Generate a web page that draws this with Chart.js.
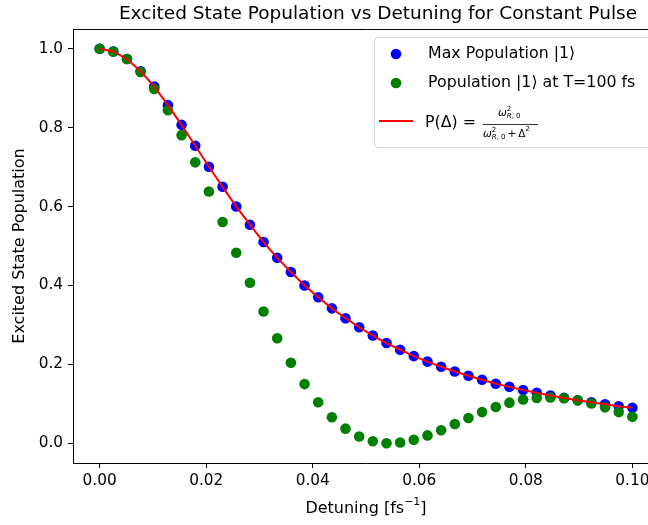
<!DOCTYPE html>
<html>
<head>
<meta charset="utf-8">
<script src="https://cdn.jsdelivr.net/npm/chart.js@4.4.1/dist/chart.umd.min.js"></script>
<style>
    html, body { margin: 0; padding: 0; background: #fff; overflow: hidden; }
    #wrap { width: 680px; height: 525px; }
</style>
</head>
<body>
<div id="wrap"><canvas id="popChart" width="680" height="525"></canvas></div>
<script>
// Data
const detuning = [0, 0.00256, 0.00513, 0.00769, 0.01026, 0.01282, 0.01538, 0.01795, 0.02051, 0.02308,
    0.02564, 0.02821, 0.03077, 0.03333, 0.0359, 0.03846, 0.04103, 0.04359, 0.04615, 0.04872,
    0.05128, 0.05385, 0.05641, 0.05897, 0.06154, 0.0641, 0.06667, 0.06923, 0.07179, 0.07436,
    0.07692, 0.07949, 0.08205, 0.08462, 0.08718, 0.08974, 0.09231, 0.09487, 0.09744, 0.1];
const maxPop = [1.000, 0.993, 0.974, 0.943, 0.904, 0.857, 0.807, 0.754, 0.701, 0.650,
    0.600, 0.554, 0.510, 0.470, 0.434, 0.400, 0.370, 0.342, 0.317, 0.294,
    0.273, 0.254, 0.237, 0.221, 0.207, 0.194, 0.182, 0.171, 0.161, 0.151,
    0.143, 0.135, 0.128, 0.121, 0.115, 0.109, 0.104, 0.099, 0.094, 0.090];
const popT100 = [1.000, 0.993, 0.974, 0.941, 0.898, 0.844, 0.781, 0.712, 0.638, 0.561,
    0.483, 0.407, 0.334, 0.266, 0.204, 0.150, 0.104, 0.066, 0.037, 0.017,
    0.005, 0.000, 0.002, 0.009, 0.020, 0.033, 0.049, 0.064, 0.079, 0.092,
    0.103, 0.111, 0.115, 0.116, 0.114, 0.109, 0.101, 0.091, 0.079, 0.067];
const xTicks = [0, 0.02, 0.04, 0.06, 0.08, 0.10];
const yTicks = [0, 0.2, 0.4, 0.6, 0.8, 1.0];

const FONT = '"DejaVu Sans", sans-serif';

function pts(ys) {
    return detuning.map((x, i) => ({ x: x, y: ys[i] }));
}

// Title, axis labels, top spine and the legend (with its fraction)
const decorPlugin = {
    id: 'decor',
    afterDraw(chart) {
        const ctx = chart.ctx;
        const a = chart.chartArea;
        const cx = (a.left + a.right) / 2;
        ctx.save();

        // top + right spines
        ctx.strokeStyle = '#000';
        ctx.lineWidth = 1;
        ctx.beginPath();
        ctx.moveTo(a.left, a.top + 0.5);
        ctx.lineTo(a.right + 0.5, a.top + 0.5);
        ctx.lineTo(a.right + 0.5, a.bottom);
        ctx.stroke();

        ctx.fillStyle = '#000';
        ctx.textBaseline = 'middle';

        // title
        ctx.font = '18.5px ' + FONT;
        ctx.textAlign = 'center';
        ctx.fillText('Excited State Population vs Detuning for Constant Pulse', cx + 12, 14);

        // x label with superscript
        ctx.font = '16px ' + FONT;
        const p1 = 'Detuning [fs', p2 = '\u22121', p3 = ']';
        const w1 = ctx.measureText(p1).width;
        const w3 = ctx.measureText(p3).width;
        ctx.font = '11px ' + FONT;
        const w2 = ctx.measureText(p2).width;
        let x0 = cx - (w1 + w2 + w3) / 2;
        ctx.textAlign = 'left';
        ctx.font = '16px ' + FONT;
        ctx.fillText(p1, x0, 509);
        ctx.font = '11px ' + FONT;
        ctx.fillText(p2, x0 + w1, 502);
        ctx.font = '16px ' + FONT;
        ctx.fillText(p3, x0 + w1 + w2, 509);

        // y label
        ctx.save();
        ctx.translate(20, (a.top + a.bottom) / 2);
        ctx.rotate(-Math.PI / 2);
        ctx.textAlign = 'center';
        ctx.font = '16px ' + FONT;
        ctx.fillText('Excited State Population', 0, 0);
        ctx.restore();

        // legend box
        const bx = 374, by = 37, bw = 278, bh = 110, r = 4;
        ctx.fillStyle = 'rgba(255,255,255,0.8)';
        ctx.strokeStyle = '#d6d6d6';
        ctx.beginPath();
        ctx.roundRect(bx + 0.5, by + 0.5, bw, bh, r);
        ctx.fill();
        ctx.stroke();

        ctx.fillStyle = '#0000ff';
        ctx.beginPath(); ctx.arc(396, 54, 5.3, 0, Math.PI * 2); ctx.fill();
        ctx.fillStyle = '#008000';
        ctx.beginPath(); ctx.arc(396, 83, 5.3, 0, Math.PI * 2); ctx.fill();
        ctx.strokeStyle = '#ff0000';
        ctx.lineWidth = 2;
        ctx.beginPath(); ctx.moveTo(379, 121); ctx.lineTo(413, 121); ctx.stroke();

        ctx.fillStyle = '#000';
        ctx.textAlign = 'left';
        ctx.font = '15.8px ' + FONT;
        ctx.fillText('Max Population |1\u27e9', 428, 54);
        ctx.fillText('Population |1\u27e9 at T=100 fs', 428, 83);
        ctx.fillText('P(\u0394) =', 425, 123);

        // fraction  w^2_{R,0} / (w^2_{R,0} + D^2)
        function omega(x, y) {
            ctx.font = 'italic 10.5px ' + FONT;
            ctx.fillText('\u03c9', x, y);
            const w = ctx.measureText('\u03c9').width;
            ctx.font = '7px ' + FONT;
            ctx.fillText('2', x + w, y - 4);
            ctx.font = 'italic 7px ' + FONT;
            ctx.fillText('R', x + w, y + 3);
            const wr = ctx.measureText('R').width;
            ctx.font = '7px ' + FONT;
            ctx.fillText(', 0', x + w + wr, y + 3);
            return w + wr + ctx.measureText(', 0').width;
        }
        omega(498, 113);
        ctx.strokeStyle = '#000';
        ctx.lineWidth = 0.8;
        ctx.beginPath(); ctx.moveTo(483, 124.5); ctx.lineTo(538, 124.5); ctx.stroke();
        let dx = 483 + omega(483, 134) + 2;
        ctx.font = '10.5px ' + FONT;
        ctx.fillText('+', dx, 134);
        dx += ctx.measureText('+').width + 2;
        ctx.fillText('\u0394', dx, 134);
        dx += ctx.measureText('\u0394').width;
        ctx.font = '7px ' + FONT;
        ctx.fillText('2', dx, 129);

        ctx.restore();
    }
};

const tickFont = { family: FONT, size: 15.3 };

new Chart(document.getElementById('popChart'), {
    type: 'scatter',
    data: {
        datasets: [
            {
                label: 'P(\u0394)',
                data: pts(maxPop),
                showLine: true,
                borderColor: '#ff0000',
                borderWidth: 2,
                pointRadius: 0,
                order: 0
            },
            {
                label: 'Population |1\u27e9 at T=100 fs',
                data: pts(popT100),
                backgroundColor: '#008000',
                borderWidth: 0,
                pointRadius: 5.3,
                order: 1
            },
            {
                label: 'Max Population |1\u27e9',
                data: pts(maxPop),
                backgroundColor: '#0000ff',
                borderWidth: 0,
                pointRadius: 5.3,
                order: 2
            }
        ]
    },
    options: {
        responsive: false,
        animation: false,
        layout: { padding: { top: 29, right: 21, left: 0, bottom: 0 } },
        plugins: {
            legend: { display: false },
            title: { display: false },
            tooltip: { enabled: false }
        },
        scales: {
            x: {
                type: 'linear',
                min: -0.005,
                max: 0.105,
                afterFit: s => { s.height = 62; },
                afterBuildTicks: s => { s.ticks = xTicks.map(v => ({ value: v })); },
                ticks: {
                    font: tickFont,
                    color: '#000',
                    padding: 4,
                    maxRotation: 0,
                    callback: v => v.toFixed(2)
                },
                grid: { drawOnChartArea: false, drawTicks: true, tickLength: 5, tickColor: '#000' },
                border: { color: '#000', width: 1 }
            },
            y: {
                type: 'linear',
                min: -0.05,
                max: 1.05,
                afterFit: s => { s.width = 73; },
                afterBuildTicks: s => { s.ticks = yTicks.map(v => ({ value: v })); },
                ticks: {
                    font: tickFont,
                    color: '#000',
                    padding: 5,
                    callback: v => v.toFixed(1)
                },
                grid: { drawOnChartArea: false, drawTicks: true, tickLength: 5, tickColor: '#000' },
                border: { color: '#000', width: 1 }
            }
        }
    },
    plugins: [decorPlugin]
});
</script>
</body>
</html>
